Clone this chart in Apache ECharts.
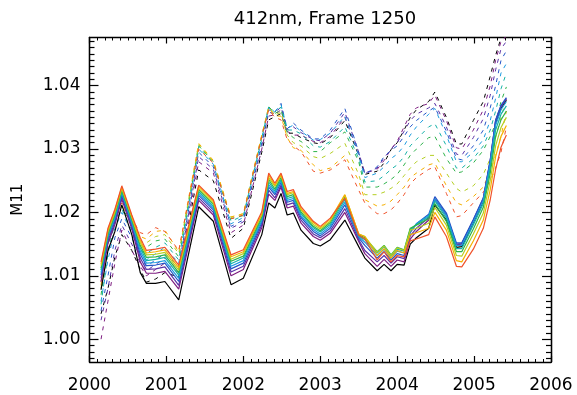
<!DOCTYPE html>
<html>
<head>
<meta charset="utf-8">
<script src="https://cdn.jsdelivr.net/npm/echarts@6/dist/echarts.min.js"></script>
<style>
  html, body { margin: 0; padding: 0; background: #fff; }
  #chart { width: 577px; height: 395px; }
</style>
</head>
<body>
<div id="chart"></div>
<script>
// time axis (decimal years), shared by every curve
var years = [2000.15, 2000.24, 2000.33, 2000.42, 2000.55, 2000.66, 2000.74, 2000.86, 2000.98, 2001.16,
             2001.42, 2001.61, 2001.84, 2002.00, 2002.24, 2002.33, 2002.41, 2002.49, 2002.57, 2002.65,
             2002.75, 2002.91, 2003.00, 2003.13, 2003.32, 2003.50, 2003.58,
             2003.74, 2003.83, 2003.92, 2004.00, 2004.09, 2004.17, 2004.25, 2004.41, 2004.49,
             2004.64, 2004.77, 2004.84, 2004.99,
             2005.12, 2005.21, 2005.28, 2005.35, 2005.42];

// solid curves, black -> red
var solid0 = [1.0078, 1.0140, 1.0170, 1.0212, 1.0165, 1.0105, 1.0088, 1.0088, 1.0091, 1.0062,
              1.0209, 1.0186, 1.0086, 1.0096, 1.0165, 1.0215, 1.0207, 1.0230, 1.0196, 1.0199,
              1.0172, 1.0151, 1.0147, 1.0157, 1.0188, 1.0146, 1.0128,
              1.0108, 1.0118, 1.0108, 1.0118, 1.0117, 1.0150, 1.0160, 1.0175, 1.0212,
              1.0188, 1.0145, 1.0146, 1.0184,
              1.0218, 1.0278, 1.0340, 1.0364, 1.0377];
var solid1 = [1.0091, 1.0151, 1.0181, 1.0221, 1.0174, 1.0122, 1.0104, 1.0104, 1.0107, 1.0079,
              1.0219, 1.0196, 1.0100, 1.0110, 1.0176, 1.0229, 1.0219, 1.0240, 1.0207, 1.0210,
              1.0183, 1.0162, 1.0156, 1.0167, 1.0200, 1.0154, 1.0135,
              1.0115, 1.0126, 1.0115, 1.0125, 1.0122, 1.0158, 1.0170, 1.0188, 1.0220,
              1.0195, 1.0149, 1.0150, 1.0187,
              1.0221, 1.0281, 1.0344, 1.0367, 1.0379];
var solid2 = [1.0096, 1.0155, 1.0185, 1.0225, 1.0178, 1.0128, 1.0110, 1.0111, 1.0114, 1.0085,
              1.0223, 1.0200, 1.0106, 1.0115, 1.0180, 1.0235, 1.0223, 1.0243, 1.0212, 1.0215,
              1.0188, 1.0166, 1.0160, 1.0171, 1.0206, 1.0157, 1.0140,
              1.0122, 1.0132, 1.0120, 1.0130, 1.0127, 1.0163, 1.0175, 1.0192, 1.0222,
              1.0197, 1.0150, 1.0151, 1.0188,
              1.0222, 1.0282, 1.0345, 1.0368, 1.0380];
var solid3 = [1.0101, 1.0159, 1.0189, 1.0228, 1.0181, 1.0134, 1.0116, 1.0117, 1.0120, 1.0091,
              1.0227, 1.0204, 1.0111, 1.0120, 1.0184, 1.0240, 1.0228, 1.0247, 1.0216, 1.0219,
              1.0192, 1.0170, 1.0163, 1.0175, 1.0212, 1.0160, 1.0148,
              1.0128, 1.0138, 1.0125, 1.0135, 1.0132, 1.0168, 1.0182, 1.0197, 1.0225,
              1.0199, 1.0152, 1.0152, 1.0189,
              1.0223, 1.0283, 1.0346, 1.0369, 1.0381];
var solid4 = [1.0105, 1.0162, 1.0192, 1.0231, 1.0184, 1.0139, 1.0120, 1.0121, 1.0124, 1.0096,
              1.0230, 1.0207, 1.0115, 1.0124, 1.0187, 1.0244, 1.0231, 1.0250, 1.0219, 1.0222,
              1.0195, 1.0173, 1.0166, 1.0178, 1.0216, 1.0162, 1.0153,
              1.0132, 1.0142, 1.0128, 1.0139, 1.0136, 1.0171, 1.0182, 1.0195, 1.0221,
              1.0195, 1.0148, 1.0148, 1.0185,
              1.0219, 1.0277, 1.0338, 1.0362, 1.0375];
var solid5 = [1.0109, 1.0165, 1.0195, 1.0233, 1.0187, 1.0144, 1.0124, 1.0126, 1.0129, 1.0101,
              1.0233, 1.0210, 1.0119, 1.0128, 1.0190, 1.0248, 1.0234, 1.0252, 1.0222, 1.0225,
              1.0198, 1.0176, 1.0169, 1.0181, 1.0220, 1.0163, 1.0157,
              1.0136, 1.0146, 1.0131, 1.0142, 1.0139, 1.0173, 1.0181, 1.0193, 1.0218,
              1.0191, 1.0143, 1.0143, 1.0180,
              1.0214, 1.0270, 1.0330, 1.0355, 1.0368];
var solid6 = [1.0112, 1.0167, 1.0197, 1.0235, 1.0189, 1.0148, 1.0129, 1.0130, 1.0133, 1.0105,
              1.0236, 1.0213, 1.0123, 1.0131, 1.0193, 1.0252, 1.0237, 1.0255, 1.0225, 1.0228,
              1.0201, 1.0178, 1.0171, 1.0184, 1.0224, 1.0165, 1.0160,
              1.0138, 1.0148, 1.0133, 1.0145, 1.0141, 1.0175, 1.0180, 1.0190, 1.0214,
              1.0186, 1.0138, 1.0138, 1.0174,
              1.0208, 1.0262, 1.0320, 1.0346, 1.0360];
var solid7 = [1.0116, 1.0170, 1.0200, 1.0238, 1.0192, 1.0152, 1.0133, 1.0134, 1.0137, 1.0109,
              1.0238, 1.0215, 1.0126, 1.0135, 1.0196, 1.0255, 1.0241, 1.0258, 1.0228, 1.0231,
              1.0204, 1.0181, 1.0174, 1.0186, 1.0227, 1.0166, 1.0162,
              1.0137, 1.0147, 1.0132, 1.0144, 1.0140, 1.0172, 1.0175, 1.0183, 1.0208,
              1.0180, 1.0132, 1.0131, 1.0166,
              1.0199, 1.0250, 1.0305, 1.0334, 1.0350];
var solid8 = [1.0119, 1.0173, 1.0203, 1.0240, 1.0194, 1.0156, 1.0136, 1.0138, 1.0141, 1.0113,
              1.0241, 1.0218, 1.0130, 1.0138, 1.0198, 1.0259, 1.0243, 1.0260, 1.0230, 1.0233,
              1.0206, 1.0184, 1.0176, 1.0189, 1.0228, 1.0166, 1.0162,
              1.0132, 1.0143, 1.0128, 1.0140, 1.0136, 1.0165, 1.0168, 1.0175, 1.0200,
              1.0172, 1.0124, 1.0122, 1.0155,
              1.0188, 1.0236, 1.0288, 1.0320, 1.0337];
var solid9 = [1.0122, 1.0175, 1.0205, 1.0242, 1.0196, 1.0160, 1.0140, 1.0142, 1.0145, 1.0117,
              1.0243, 1.0220, 1.0133, 1.0141, 1.0201, 1.0262, 1.0246, 1.0262, 1.0233, 1.0236,
              1.0209, 1.0186, 1.0178, 1.0191, 1.0222, 1.0164, 1.0158,
              1.0125, 1.0138, 1.0122, 1.0132, 1.0130, 1.0155, 1.0158, 1.0165, 1.0193,
              1.0162, 1.0115, 1.0114, 1.0142,
              1.0175, 1.0220, 1.0268, 1.0303, 1.0322];

// dashed curves, black -> red
var dash0 = [1.0040, 1.0080, 1.0130, 1.0165, 1.0140, 1.0110, 1.0090, 1.0095, 1.0105, 1.0098,
             1.0267, 1.0250, 1.0159, 1.0175, 1.0295, 1.0346, 1.0351, 1.0356, 1.0325, 1.0325,
             1.0318, 1.0310, 1.0308, 1.0318, 1.0345, 1.0290, 1.0260,
             1.0265, 1.0278, 1.0299, 1.0310, 1.0330, 1.0350, 1.0362, 1.0375, 1.0390,
             1.0350, 1.0308, 1.0308, 1.0345,
             1.0375, 1.0415, 1.0448, 1.0475, 1.0480];
var dash1 = [1.0000, 1.0060, 1.0120, 1.0172, 1.0140, 1.0115, 1.0100, 1.0110, 1.0120, 1.0105,
             1.0280, 1.0262, 1.0168, 1.0180, 1.0300, 1.0352, 1.0354, 1.0362, 1.0328, 1.0322,
             1.0322, 1.0312, 1.0310, 1.0320, 1.0350, 1.0292, 1.0262,
             1.0268, 1.0282, 1.0300, 1.0312, 1.0335, 1.0355, 1.0365, 1.0372, 1.0385,
             1.0345, 1.0302, 1.0300, 1.0330,
             1.0362, 1.0400, 1.0440, 1.0470, 1.0478];
var dash2 = [1.0030, 1.0080, 1.0140, 1.0180, 1.0150, 1.0120, 1.0108, 1.0118, 1.0128, 1.0110,
             1.0288, 1.0268, 1.0175, 1.0185, 1.0305, 1.0358, 1.0356, 1.0367, 1.0330, 1.0335,
             1.0326, 1.0315, 1.0313, 1.0325, 1.0358, 1.0295, 1.0262,
             1.0270, 1.0286, 1.0300, 1.0310, 1.0328, 1.0345, 1.0355, 1.0365, 1.0372,
             1.0335, 1.0292, 1.0290, 1.0318,
             1.0348, 1.0385, 1.0425, 1.0458, 1.0470];
var dash3 = [1.0045, 1.0100, 1.0160, 1.0190, 1.0160, 1.0128, 1.0115, 1.0125, 1.0135, 1.0115,
             1.0295, 1.0272, 1.0178, 1.0188, 1.0310, 1.0362, 1.0358, 1.0372, 1.0332, 1.0341,
             1.0330, 1.0316, 1.0316, 1.0330, 1.0364, 1.0295, 1.0260,
             1.0272, 1.0288, 1.0298, 1.0305, 1.0320, 1.0335, 1.0345, 1.0360, 1.0366,
             1.0328, 1.0285, 1.0283, 1.0305,
             1.0330, 1.0365, 1.0400, 1.0440, 1.0455];
var dash4 = [1.0060, 1.0125, 1.0175, 1.0200, 1.0168, 1.0135, 1.0125, 1.0135, 1.0145, 1.0120,
             1.0300, 1.0276, 1.0182, 1.0192, 1.0315, 1.0365, 1.0359, 1.0370, 1.0332, 1.0338,
             1.0328, 1.0314, 1.0315, 1.0325, 1.0352, 1.0290, 1.0255,
             1.0262, 1.0272, 1.0285, 1.0292, 1.0305, 1.0322, 1.0335, 1.0355, 1.0364,
             1.0322, 1.0280, 1.0280, 1.0295,
             1.0315, 1.0345, 1.0380, 1.0420, 1.0435];
var dash5 = [1.0055, 1.0135, 1.0185, 1.0205, 1.0172, 1.0140, 1.0135, 1.0145, 1.0152, 1.0125,
             1.0304, 1.0278, 1.0186, 1.0195, 1.0318, 1.0367, 1.0358, 1.0366, 1.0330, 1.0330,
             1.0324, 1.0305, 1.0303, 1.0312, 1.0335, 1.0285, 1.0248,
             1.0250, 1.0258, 1.0268, 1.0275, 1.0288, 1.0305, 1.0315, 1.0335, 1.0340,
             1.0305, 1.0270, 1.0270, 1.0285,
             1.0305, 1.0330, 1.0360, 1.0395, 1.0420];
var dash6 = [1.0070, 1.0145, 1.0190, 1.0210, 1.0178, 1.0148, 1.0145, 1.0155, 1.0158, 1.0130,
             1.0305, 1.0280, 1.0190, 1.0195, 1.0320, 1.0367, 1.0356, 1.0362, 1.0326, 1.0318,
             1.0312, 1.0296, 1.0296, 1.0310, 1.0327, 1.0280, 1.0240,
             1.0240, 1.0245, 1.0252, 1.0260, 1.0275, 1.0290, 1.0300, 1.0318, 1.0320,
             1.0285, 1.0262, 1.0264, 1.0278,
             1.0298, 1.0320, 1.0340, 1.0375, 1.0398];
var dash7 = [1.0080, 1.0150, 1.0195, 1.0212, 1.0182, 1.0155, 1.0152, 1.0162, 1.0165, 1.0135,
             1.0307, 1.0280, 1.0192, 1.0198, 1.0322, 1.0366, 1.0354, 1.0358, 1.0322, 1.0310,
             1.0305, 1.0288, 1.0285, 1.0293, 1.0309, 1.0260, 1.0228,
             1.0228, 1.0232, 1.0238, 1.0245, 1.0258, 1.0270, 1.0280, 1.0290, 1.0290,
             1.0262, 1.0238, 1.0232, 1.0242,
             1.0260, 1.0285, 1.0318, 1.0350, 1.0380];
var dash8 = [1.0085, 1.0155, 1.0198, 1.0215, 1.0186, 1.0162, 1.0158, 1.0170, 1.0172, 1.0138,
             1.0309, 1.0282, 1.0193, 1.0198, 1.0322, 1.0365, 1.0352, 1.0352, 1.0318, 1.0302,
             1.0298, 1.0275, 1.0266, 1.0270, 1.0290, 1.0250, 1.0220,
             1.0210, 1.0212, 1.0218, 1.0228, 1.0240, 1.0255, 1.0262, 1.0275, 1.0278,
             1.0242, 1.0215, 1.0212, 1.0225,
             1.0240, 1.0265, 1.0290, 1.0320, 1.0360];
var dash9 = [1.0090, 1.0160, 1.0200, 1.0215, 1.0190, 1.0168, 1.0165, 1.0176, 1.0170, 1.0140,
             1.0300, 1.0278, 1.0190, 1.0196, 1.0320, 1.0362, 1.0350, 1.0346, 1.0315, 1.0305,
             1.0296, 1.0265, 1.0262, 1.0267, 1.0283, 1.0235, 1.0215,
             1.0198, 1.0198, 1.0204, 1.0214, 1.0228, 1.0245, 1.0255, 1.0268, 1.0272,
             1.0230, 1.0193, 1.0195, 1.0215,
             1.0232, 1.0250, 1.0270, 1.0295, 1.0335];

var solidSets = [solid0, solid1, solid2, solid3, solid4, solid5, solid6, solid7, solid8, solid9];
var dashSets = [dash0, dash1, dash2, dash3, dash4, dash5, dash6, dash7, dash8, dash9];
var lineColors = ['#000000', '#7d1d80', '#5a32a8', '#2456c8', '#1c9be0',
                  '#15b2a8', '#2db34a', '#b4cf22', '#f5b000', '#f0522a'];

var yMajor = [1.00, 1.01, 1.02, 1.03, 1.04];
var Y_MIN = 0.9964, Y_MAX = 1.0476;

// minor ticks every 0.001 on y
var yMinor = [];
for (var k = 997; k <= 1047; k++) {
    if (k % 10 != 0) yMinor.push(k / 1000);
}

var FONT = 'DejaVu Sans';

function pairs(ys) {
    var out = [];
    for (var i = 0; i < years.length; i++) out.push([years[i], ys[i]]);
    return out;
}

var series = [];
// dashed first, solid on top
for (var i = 0; i < dashSets.length; i++) {
    series.push({
        type: 'line', xAxisIndex: 0, yAxisIndex: 0,
        data: pairs(dashSets[i]),
        showSymbol: false, symbol: 'none', silent: true, clip: true,
        lineStyle: { color: lineColors[i], width: 1, type: [4, 5] }
    });
}
for (var i = 0; i < solidSets.length; i++) {
    series.push({
        type: 'line', xAxisIndex: 0, yAxisIndex: 0,
        data: pairs(solidSets[i]),
        showSymbol: false, symbol: 'none', silent: true, clip: true,
        lineStyle: { color: lineColors[i], width: 1.2 }
    });
}

function xAxisDef(pos, labels) {
    return {
        type: 'value', position: pos, min: 2000, max: 2006, interval: 1,
        axisLine: { show: true, onZero: false, lineStyle: { color: '#000', width: 1.3 } },
        axisTick: { show: true, inside: true, length: 6, lineStyle: { color: '#000', width: 1.2 } },
        minorTick: { show: true, splitNumber: 10, length: 3, lineStyle: { color: '#000', width: 1 } },
        splitLine: { show: false },
        axisLabel: { show: labels, color: '#000', fontFamily: FONT, fontSize: 17, margin: 15,
                     formatter: function (v) { return String(Math.round(v)); } }
    };
}

function yAxisDef(pos, ticks, len, labels) {
    return {
        type: 'value', position: pos, min: Y_MIN, max: Y_MAX,
        axisLine: { show: true, onZero: false, lineStyle: { color: '#000', width: 1.3 } },
        axisTick: { show: true, inside: true, length: len, customValues: ticks,
                    lineStyle: { color: '#000', width: 1.2 } },
        splitLine: { show: false },
        axisLabel: { show: labels, customValues: ticks, color: '#000', fontFamily: FONT, fontSize: 17, margin: 9,
                     formatter: function (v) { return v.toFixed(2); } }
    };
}

var yLeft = yAxisDef('left', yMajor, 9, true);
yLeft.name = 'M11';
yLeft.nameLocation = 'middle';
yLeft.nameGap = 64;
yLeft.nameTextStyle = { color: '#000', fontFamily: FONT, fontSize: 15 };

var option = {
    animation: false,
    backgroundColor: '#fff',
    title: {
        text: '412nm, Frame 1250',
        left: 320, top: 5, textAlign: 'center',
        textStyle: { color: '#000', fontFamily: FONT, fontSize: 18, fontWeight: 'normal' }
    },
    grid: { left: 89.5, right: 26, top: 37.5, bottom: 33, containLabel: false, outerBoundsMode: 'none' },
    xAxis: [xAxisDef('bottom', true), xAxisDef('top', false)],
    yAxis: [
        yLeft,
        yAxisDef('left', yMinor, 5, false),
        yAxisDef('right', yMajor, 9, false),
        yAxisDef('right', yMinor, 5, false)
    ],
    series: series
};

var myChart = echarts.init(document.getElementById('chart'), null, { renderer: 'canvas' });
myChart.setOption(option);
</script>
</body>
</html>
